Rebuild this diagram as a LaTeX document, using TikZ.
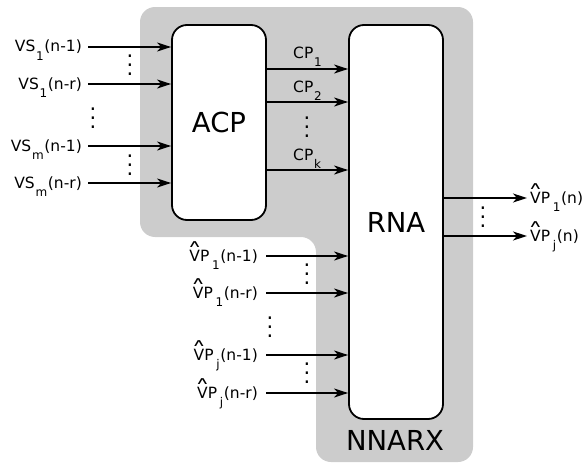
\documentclass[tikz,border=0pt]{standalone}
\usepackage{fontspec}
\setmainfont{DejaVu Sans}
\usetikzlibrary{arrows.meta, positioning}

\newcommand{\idx}[1]{\kern0.7pt\raisebox{-8.5pt}{\fontsize{12}{12}\selectfont #1}\kern0.7pt}
\newcommand{\hatV}{\ooalign{V\cr\hidewidth\raisebox{13.5pt}{\scalebox{1.25}[0.65]{∧}}\hidewidth\cr}}
\newcommand{\vphat}{\hatV P\kern2pt}
\newcommand{\vdotsx}{\vbox{\baselineskip=9pt\lineskiplimit=0pt\hbox{.}\hbox{.}\hbox{.}}}

\begin{document}
\begin{tikzpicture}[x=1pt, y=-1pt, font=\fontsize{15.5}{17}\selectfont,
          block/.style={draw, line width=1.8pt, fill=white, rounded corners=15pt, minimum width=94pt, inner sep=0pt, font=\fontsize{27.5}{30}\selectfont},
          lbl/.style={inner sep=0pt, anchor=base east},
          rlbl/.style={inner sep=0pt, anchor=base west},
          dts/.style={inner sep=0pt, font=\fontsize{21}{21}\selectfont},
          arrow/.style={-{Stealth[length=14pt, width=9pt, inset=4pt]}, line width=1.7pt}]
        \useasboundingbox (0,0) rectangle (582,463);
        % grey NNARX area
        \fill[black!20, rounded corners=15pt] (140,7) -- (473,7) -- (473,462) -- (316,462) -- (316,237) -- (140,237) -- cycle;
        \node (nnarx) at (395,440) {\fontsize{27.5}{30}\selectfont NNARX};

        \node [block, minimum height=195pt] (acp) at (219,122.5) {ACP};
        \node [block, minimum height=394pt] (rna) at (396,222) {RNA};

        % inputs of ACP
        \coordinate (i1) at (88,47);
        \coordinate (i2) at (88,84);
        \coordinate (i3) at (88,146);
        \coordinate (i4) at (88,183);
        \node [lbl] (vs1a) at (82,52) {VS\idx{1}(n-1)};
        \node [lbl] (vs1b) at (82,89) {VS\idx{1}(n-r)};
        \node [lbl] (vsma) at (82,151) {VS\idx{m}(n-1)};
        \node [lbl] (vsmb) at (82,188) {VS\idx{m}(n-r)};
        \draw [arrow] (i1) -- (i1 -| acp.west);
        \draw [arrow] (i2) -- (i2 -| acp.west);
        \draw [arrow] (i3) -- (i3 -| acp.west);
        \draw [arrow] (i4) -- (i4 -| acp.west);
        \node [dts] (d1) at (130,65) {\vdotsx};
        \node [dts] (d2) at (93,118) {\vdotsx};
        \node [dts] (d3) at (130,165) {\vdotsx};

        % ACP -> RNA
        \coordinate (c1) at (300,69);
        \coordinate (c2) at (300,102);
        \coordinate (c3) at (300,170);
        \node [rlbl] (cp1) at (293,58) {CP\idx{1}};
        \node [rlbl] (cp2) at (293,92) {CP\idx{2}};
        \node [rlbl] (cpk) at (293,160) {CP\idx{k}};
        \draw [arrow] (c1 -| acp.east) -- (c1 -| rna.west);
        \draw [arrow] (c2 -| acp.east) -- (c2 -| rna.west);
        \draw [arrow] (c3 -| acp.east) -- (c3 -| rna.west);
        \node [dts] (d4) at (307,127) {\vdotsx};

        % fed back outputs
        \coordinate (f1) at (266,256);
        \coordinate (f2) at (266,293);
        \coordinate (f3) at (266,355);
        \coordinate (f4) at (266,393);
        \node [lbl] (vp1a) at (258,261) {\vphat\idx{1}(n-1)};
        \node [lbl] (vp1b) at (258,298) {\vphat\idx{1}(n-r)};
        \node [lbl] (vpja) at (258,360) {\vphat\idx{j}(n-1)};
        \node [lbl] (vpjb) at (258,398) {\vphat\idx{j}(n-r)};
        \draw [arrow] (f1) -- (f1 -| rna.west);
        \draw [arrow] (f2) -- (f2 -| rna.west);
        \draw [arrow] (f3) -- (f3 -| rna.west);
        \draw [arrow] (f4) -- (f4 -| rna.west);
        \node [dts] (d5) at (307,274) {\vdotsx};
        \node [dts] (d6) at (270,327) {\vdotsx};
        \node [dts] (d7) at (307,373) {\vdotsx};

        % outputs
        \coordinate (o1) at (527,198);
        \coordinate (o2) at (527,236);
        \node [rlbl] (vp1) at (530,203) {\vphat\idx{1}(n)};
        \node [rlbl] (vpj) at (530,241) {\vphat\idx{j}(n)};
        \draw [arrow] (o1 -| rna.east) -- (o1);
        \draw [arrow] (o2 -| rna.east) -- (o2);
        \node [dts] (d8) at (483,217) {\vdotsx};
      \end{tikzpicture}
\end{document}
